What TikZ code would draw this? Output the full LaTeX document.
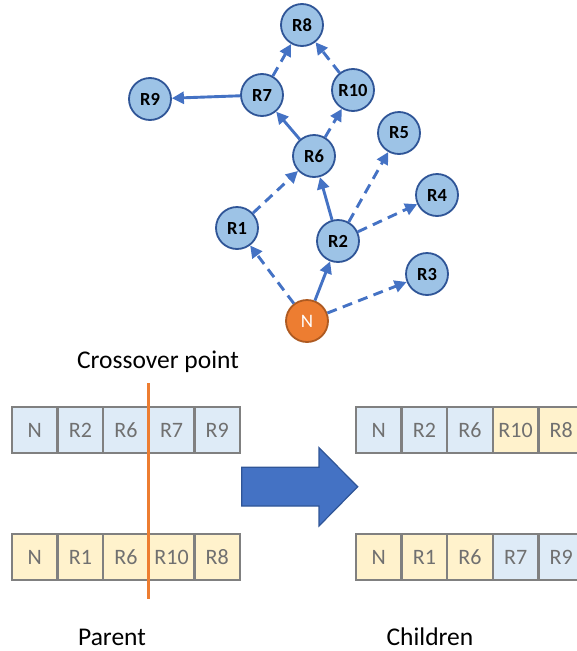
\documentclass[tikz,border=0pt]{standalone}
\usepackage{fontspec}
\setmainfont{Carlito}
\usetikzlibrary{arrows.meta}
\definecolor{nfill}{HTML}{9DC3E6}
\definecolor{nborder}{HTML}{2F5597}
\definecolor{edgec}{HTML}{4472C4}
\definecolor{ofill}{HTML}{ED7D31}
\definecolor{oborder}{HTML}{AE5A21}
\definecolor{cblue}{HTML}{DEEBF7}
\definecolor{cyel}{HTML}{FFF2CC}
\definecolor{cgray}{HTML}{808080}
\definecolor{tgray}{HTML}{707070}
\tikzset{
  rnode/.style={circle, draw=nborder, fill=nfill, line width=1.8pt, minimum size=42pt, inner sep=0pt, font=\fontsize{18.5}{20}\selectfont\bfseries},
  onode/.style={circle, draw=oborder, fill=ofill, line width=1.8pt, minimum size=42pt, inner sep=0pt, text=white, font=\fontsize{19}{20}\selectfont},
  solidedge/.style={edgec, line width=2.9pt, -{Triangle[length=12pt,width=12pt]}},
  dashedge/.style={solidedge, dash pattern=on 10pt off 6.5pt},
  cell/.style={rectangle, draw=cgray, line width=2.4pt, minimum width=45.6pt, minimum height=46pt, inner sep=0pt, text=tgray, font=\fontsize{22}{24}\selectfont},
  xline/.style={ofill, line width=2.8pt},
  bigarrow/.style={fill=edgec, draw=nborder, line width=1.2pt},
  lbl/.style={font=\fontsize{25.5}{28}\selectfont, inner sep=0pt}
}
\begin{document}
\begin{tikzpicture}[x=1pt, y=-1pt]
\useasboundingbox (0,0) rectangle (577,651);
% graph nodes
\node[rnode] (R8) at (302,25) {R8};
\node[rnode] (R7) at (262,95) {R7};
\node[rnode] (R9) at (150,99) {R9};
\node[rnode] (R10) at (353,90) {R10};
\node[rnode] (R6) at (314,156) {R6};
\node[rnode] (R5) at (399,133) {R5};
\node[rnode] (R4) at (437,195) {R4};
\node[rnode] (R1) at (237,228) {R1};
\node[rnode] (R2) at (338,241) {R2};
\node[rnode] (R3) at (427,274) {R3};
\node[onode] (N) at (307,321) {N};
% edges
\draw[solidedge] (N) -- (R2);
\draw[dashedge] (N) -- (R1);
\draw[dashedge] (N) -- (R3);
\draw[solidedge] (R2) -- (R6);
\draw[dashedge] (R2) -- (R5);
\draw[dashedge] (R2) -- (R4);
\draw[dashedge] (R1) -- (R6);
\draw[solidedge] (R6) -- (R7);
\draw[dashedge] (R6) -- (R10);
\draw[solidedge] (R7) -- (R9);
\draw[dashedge] (R7) -- (R8);
\draw[dashedge] (R10) -- (R8);
% parent rows
\foreach \t [count=\i] in {N,R2,R6,R7,R9}
  \node[cell, fill=cblue] (pa\i) at ({12+45.6*(\i-0.5)},430) {\t};
\foreach \t [count=\i] in {N,R1,R6,R10,R8}
  \node[cell, fill=cyel] (pb\i) at ({12+45.6*(\i-0.5)},557) {\t};
% children rows
\foreach \t/\c [count=\i] in {N/cblue,R2/cblue,R6/cblue,R10/cyel,R8/cyel}
  \node[cell, fill=\c] (ca\i) at ({356+45.6*(\i-0.5)},430) {\t};
\foreach \t/\c [count=\i] in {N/cyel,R1/cyel,R6/cyel,R7/cblue,R9/cblue}
  \node[cell, fill=\c] (cb\i) at ({356+45.6*(\i-0.5)},557) {\t};
% crossover line
\coordinate (xt) at (148.6,383);
\coordinate (xb) at (148.6,599);
\draw[xline] (xt) -- (xb);
\node[lbl] (cp) at (158,362) {Crossover point};
% big arrow
\draw[bigarrow] (241.7,467.3) -- (319,467.3) -- (319,447.7) -- (357.7,486.7) -- (319,526) -- (319,506) -- (241.7,506) -- cycle;
% labels
\node[lbl] (parent) at (112,637) {Parent};
\node[lbl] (children) at (430,637) {Children};
\end{tikzpicture}
\end{document}
